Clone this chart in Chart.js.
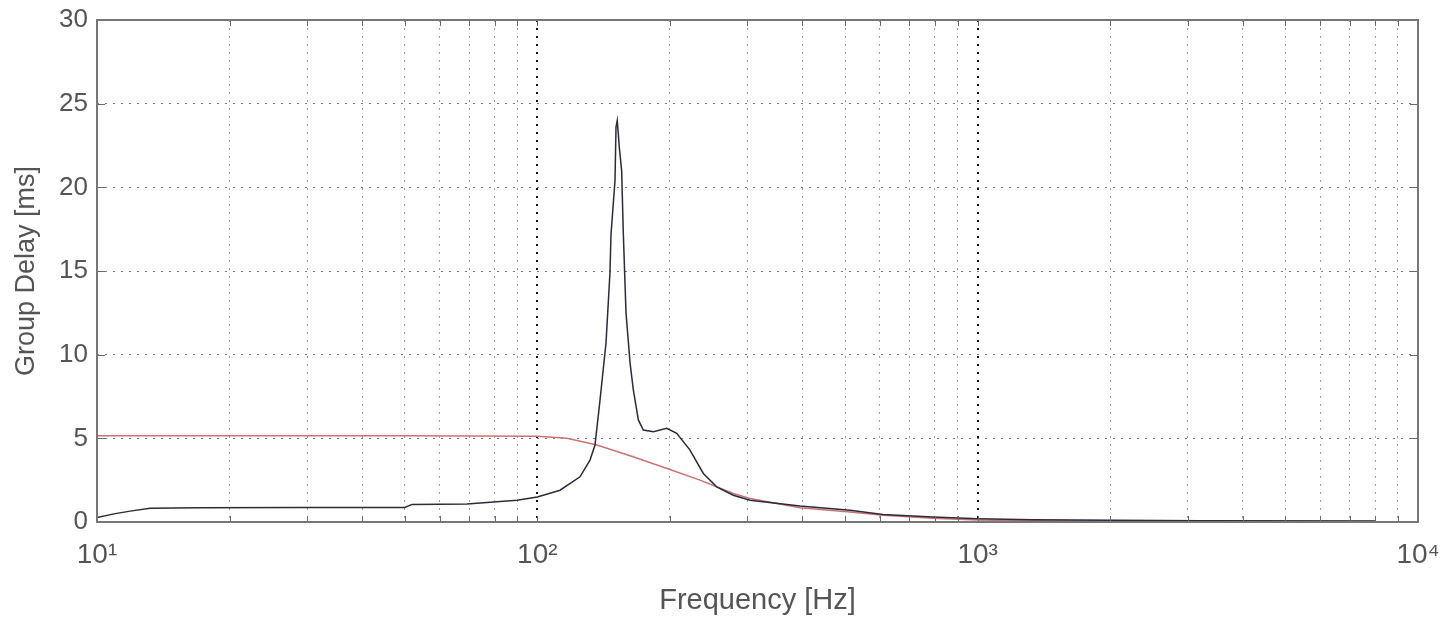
<!DOCTYPE html>
<html>
<head>
<meta charset="utf-8">
<script src="https://cdn.jsdelivr.net/npm/chart.js@4"></script>
<style>
  body { margin: 0; background: #fff; }
  #wrap { width: 1442px; height: 618px; }
</style>
</head>
<body>
<div id="wrap"><canvas id="grafico"></canvas></div>
<script>
// valores (frequência em Hz, atraso em ms)
const freqPreto = [10, 11.0, 11.9, 13.2, 17.1, 28.9, 50.0, 51.9, 69.2, 89.9, 100, 112.6, 125.0, 131.7, 135.2, 138.8, 143.2, 146.2, 147.0, 150.1, 150.9, 151.9, 153.5, 155.4, 156.7, 159.0, 162.4, 165.2, 169.6, 174.1, 183.4, 196.7, 207.3, 222.2, 238.2, 255.5, 278.6, 304.1, 394.9, 513.0, 609.5, 791.8, 1000, 1335, 3200, 8000];
const atrasoPreto = [0.27, 0.5, 0.65, 0.82, 0.85, 0.86, 0.87, 1.05, 1.08, 1.3, 1.5, 1.9, 2.7, 3.7, 4.6, 7.3, 10.7, 14.9, 17.2, 20.4, 23.6, 24.0, 22.4, 21.0, 17.4, 12.5, 9.5, 7.9, 6.1, 5.5, 5.4, 5.6, 5.3, 4.3, 2.9, 2.1, 1.6, 1.3, 0.95, 0.7, 0.45, 0.3, 0.2, 0.13, 0.08, 0.06];

const freqVermelho = [10, 50, 100, 116.8, 136.6, 165.0, 197.0, 234.1, 278.6, 304.1, 394.9, 513.0, 609.5, 791.8, 1000, 1335, 3200, 8000];
const atrasoVermelho = [5.15, 5.15, 5.12, 5.0, 4.6, 3.9, 3.2, 2.5, 1.7, 1.4, 0.85, 0.6, 0.4, 0.22, 0.12, 0.07, 0.04, 0.03];

const decadas = [10, 100, 1000, 10000];
const rotulosX = ["10\u00b9", "10\u00b2", "10\u00b3", "10\u2074"];
const ticksY = [0, 5, 10, 15, 20, 25, 30];

const fonte = "'Liberation Sans', Arial, sans-serif";

// ticks menores 10..90, 100..900 ...
const ticksX = [];
for (let d of decadas.slice(0, 3)) {
    for (let m = 1; m < 10; m++) ticksX.push(d * m);
}
ticksX.push(10000);

const pares = (xs, ys) => xs.map((x, i) => ({ x: x, y: ys[i] }));

// moldura fechada + marcas internas (estilo matlab)
const moldura = {
    id: "moldura",
    afterDraw(chart) {
        const { ctx, chartArea: a, scales } = chart;
        ctx.save();
        ctx.strokeStyle = "#6a6a6a";
        ctx.lineWidth = 1;
        ctx.beginPath();
        scales.x.ticks.forEach(t => {
            const px = Math.round(scales.x.getPixelForValue(t.value)) + 0.5;
            ctx.moveTo(px, a.bottom); ctx.lineTo(px, a.bottom - 6);
            ctx.moveTo(px, a.top); ctx.lineTo(px, a.top + 6);
        });
        scales.y.ticks.forEach(t => {
            const py = Math.round(scales.y.getPixelForValue(t.value)) + 0.5;
            ctx.moveTo(a.left, py); ctx.lineTo(a.left + 8, py);
            ctx.moveTo(a.right, py); ctx.lineTo(a.right - 8, py);
        });
        ctx.stroke();
        ctx.lineWidth = 2;
        ctx.strokeStyle = "#777";
        ctx.strokeRect(a.left, a.top, a.right - a.left, a.bottom - a.top);
        ctx.restore();
    }
};

new Chart(document.getElementById("grafico"), {
    type: "line",
    data: {
        datasets: [
            { label: "atraso 1", data: pares(freqPreto, atrasoPreto), borderColor: "#2b2b3a", borderWidth: 1.5, pointRadius: 0, tension: 0 },
            { label: "atraso 2", data: pares(freqVermelho, atrasoVermelho), borderColor: "#cc7272", borderWidth: 1.5, pointRadius: 0, tension: 0 }
        ]
    },
    options: {
        responsive: true,
        maintainAspectRatio: false,
        animation: false,
        layout: { padding: { left: 0, right: 24, top: 20, bottom: 0 } },
        plugins: { legend: { display: false }, tooltip: { enabled: false } },
        scales: {
            x: {
                type: "logarithmic",
                min: 10,
                max: 10000,
                afterBuildTicks: s => { s.ticks = ticksX.map(v => ({ value: v })); },
                afterFit: s => { s.height = 96; s.paddingLeft = 0; s.paddingRight = 0; },
                ticks: {
                    autoSkip: false,
                    maxRotation: 0,
                    padding: 16,
                    color: "#555",
                    font: { family: fonte, size: 28 },
                    callback: v => {
                        const i = decadas.indexOf(v);
                        return i >= 0 ? rotulosX[i] : "";
                    }
                },
                grid: {
                    drawTicks: false,
                    color: c => decadas.includes(c.tick && c.tick.value) ? "#111" : "#9a9a9a",
                    lineWidth: c => decadas.includes(c.tick && c.tick.value) ? 2 : 1
                },
                border: { display: false, dash: [2, 6] },
                title: {
                    display: true,
                    text: "Frequency [Hz]",
                    color: "#555",
                    font: { family: fonte, size: 29 },
                    padding: { top: 4, bottom: 0 }
                }
            },
            y: {
                min: 0,
                max: 30,
                afterBuildTicks: s => { s.ticks = ticksY.map(v => ({ value: v })); },
                afterFit: s => { s.width = 97; s.paddingTop = 0; s.paddingBottom = 0; },
                ticks: {
                    padding: 9,
                    color: "#555",
                    font: { family: fonte, size: 26 }
                },
                grid: { drawTicks: false, color: "#7a7a7a", lineWidth: 1 },
                border: { display: false, dash: [2, 6] },
                title: {
                    display: true,
                    text: "Group Delay [ms]",
                    color: "#555",
                    font: { family: fonte, size: 27 },
                    padding: { top: 10, bottom: 0 }
                }
            }
        }
    },
    plugins: [moldura]
});
</script>
</body>
</html>
